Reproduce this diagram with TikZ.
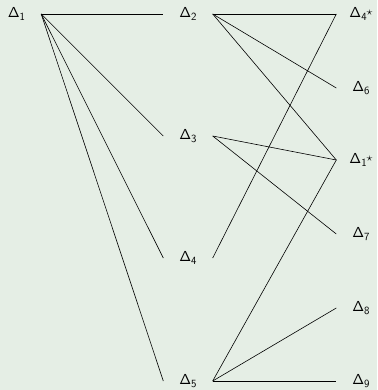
\documentclass[tikz,border=0pt]{standalone}
\usepackage{fontspec}
\definecolor{bg}{RGB}{229,238,229}
\newcommand\Dl[1]{Δ\raisebox{-2.8pt}{\fontsize{11}{13}\selectfont #1}}
\newcommand\Ds{\raisebox{2.6pt}{\fontsize{13}{15}\selectfont$\star$}}
\begin{document}
\begin{tikzpicture}[x=1pt,y=-1pt,
  lbl/.style={minimum width=49pt, minimum height=14pt, inner sep=0pt, font=\fontsize{14.5}{16}\selectfont\sffamily},
  link/.style={draw=black, line width=0.6pt}]
\fill[bg] (0,0) rectangle (377,390);
\useasboundingbox (0,0) rectangle (377,390);
% left column
\node[lbl] (d1) at (16.5,14) {\Dl{1}};
% middle column
\node[lbl] (d2) at (188,14) {\Dl{2}};
\node[lbl] (d3) at (188,136) {\Dl{3}};
\node[lbl] (d4) at (188,258) {\Dl{4}};
\node[lbl] (d5) at (188,381) {\Dl{5}};
% right column
\node[lbl] (r4) at (361,14) {\Dl{4}\Ds};
\node[lbl] (r6) at (361,88) {\Dl{6}};
\node[lbl] (r1) at (361,160) {\Dl{1}\Ds};
\node[lbl] (r7) at (361,234) {\Dl{7}};
\node[lbl] (r8) at (361,308) {\Dl{8}};
\node[lbl] (r9) at (361,381) {\Dl{9}};
% edges
\foreach \t in {d2,d3,d4,d5} \draw[link] (d1.east) -- (\t.west);
\foreach \t in {r4,r6,r1} \draw[link] (d2.east) -- (\t.west);
\foreach \t in {r1,r7} \draw[link] (d3.east) -- (\t.west);
\draw[link] (d4.east) -- (r4.west);
\foreach \t in {r1,r8,r9} \draw[link] (d5.east) -- (\t.west);
\end{tikzpicture}
\end{document}
